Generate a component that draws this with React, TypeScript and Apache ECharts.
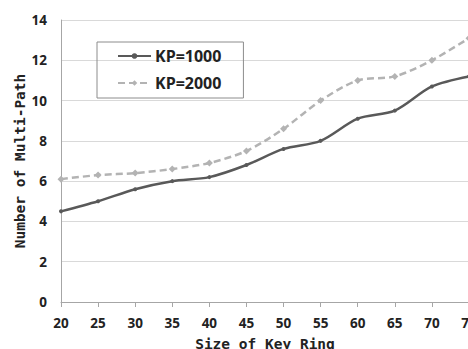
import React, { useEffect, useRef } from "react";
import * as echarts from "echarts";

const keyRingSizes = [20, 25, 30, 35, 40, 45, 50, 55, 60, 65, 70, 75];
const kp1000 = [4.5, 5.0, 5.6, 6.0, 6.2, 6.8, 7.6, 8.0, 9.1, 9.5, 10.7, 11.2];
const kp2000 = [6.1, 6.3, 6.4, 6.6, 6.9, 7.5, 8.6, 10.0, 11.0, 11.2, 12.0, 13.1];
const seriesNames = ["KP=1000", "KP=2000"];

export default function App() {
  const ref = useRef<HTMLDivElement>(null);
  useEffect(() => {
    document.body.style.margin = "0";
    document.body.style.overflow = "hidden";
    const chart = echarts.init(ref.current!, null, { renderer: "svg" });
    const font = "'Open Sans', 'Liberation Sans', sans-serif";
    const mono = "'DejaVu Sans Mono', 'Liberation Mono', monospace";
    chart.setOption({
      animation: false,
      backgroundColor: "#ffffff",
      grid: { left: 61, right: 51, top: 20, bottom: 47, containLabel: false, outerBoundsMode: "none" },
      legend: {
        left: 97,
        top: 42,
        orient: "vertical",
        borderColor: "#8c8c8c",
        borderWidth: 1,
        padding: [6, 22, 7, 20],
        itemWidth: 33,
        itemHeight: 7,
        itemGap: 11,
        textStyle: { fontFamily: font, fontWeight: "bold", fontSize: 16, color: "#222", padding: [0, 0, 0, -1] },
        data: seriesNames,
      },
      xAxis: {
        type: "value",
        min: 20,
        max: 75,
        interval: 5,
        name: "Size of Key Ring",
        nameLocation: "middle",
        nameGap: 34,
        nameTextStyle: { fontFamily: mono, fontWeight: "bold", fontSize: 14.5, color: "#222" },
        axisLine: { lineStyle: { color: "#a6a6a6" } },
        axisTick: { show: true, length: 5, lineStyle: { color: "#a6a6a6" } },
        axisLabel: { fontFamily: font, fontWeight: "bold", fontSize: 13.5, color: "#222", margin: 14 },
        splitLine: { show: false },
      },
      yAxis: {
        type: "value",
        min: 0,
        max: 14,
        interval: 2,
        name: "Number of Multi-Path",
        nameLocation: "middle",
        nameGap: 34,
        nameMoveOverlap: false,
        nameTextStyle: { fontFamily: mono, fontWeight: "bold", fontSize: 14.5, color: "#222" },
        axisLine: { show: true, lineStyle: { color: "#a6a6a6" } },
        axisTick: { show: false },
        axisLabel: { fontFamily: font, fontWeight: "bold", fontSize: 13.5, color: "#222", margin: 14 },
        splitLine: { lineStyle: { color: "#d9d9d9" } },
      },
      series: [
        {
          name: seriesNames[0],
          type: "line",
          smooth: 0.3,
          data: keyRingSizes.map((x, i) => [x, kp1000[i]]),
          symbol: "circle",
          symbolSize: 4,
          itemStyle: { color: "#595959" },
          lineStyle: { color: "#595959", width: 2.5 },
        },
        {
          name: seriesNames[1],
          type: "line",
          smooth: 0.3,
          data: keyRingSizes.map((x, i) => [x, kp2000[i]]),
          symbol: "diamond",
          symbolSize: 7,
          itemStyle: { color: "#b3b3b3" },
          lineStyle: { color: "#b3b3b3", width: 2.5, type: [7, 4] },
        },
      ],
    });
    return () => chart.dispose();
  }, []);
  return <div ref={ref} style={{ position: "fixed", left: 0, top: 0, width: 520, height: 349 }} />;
}
